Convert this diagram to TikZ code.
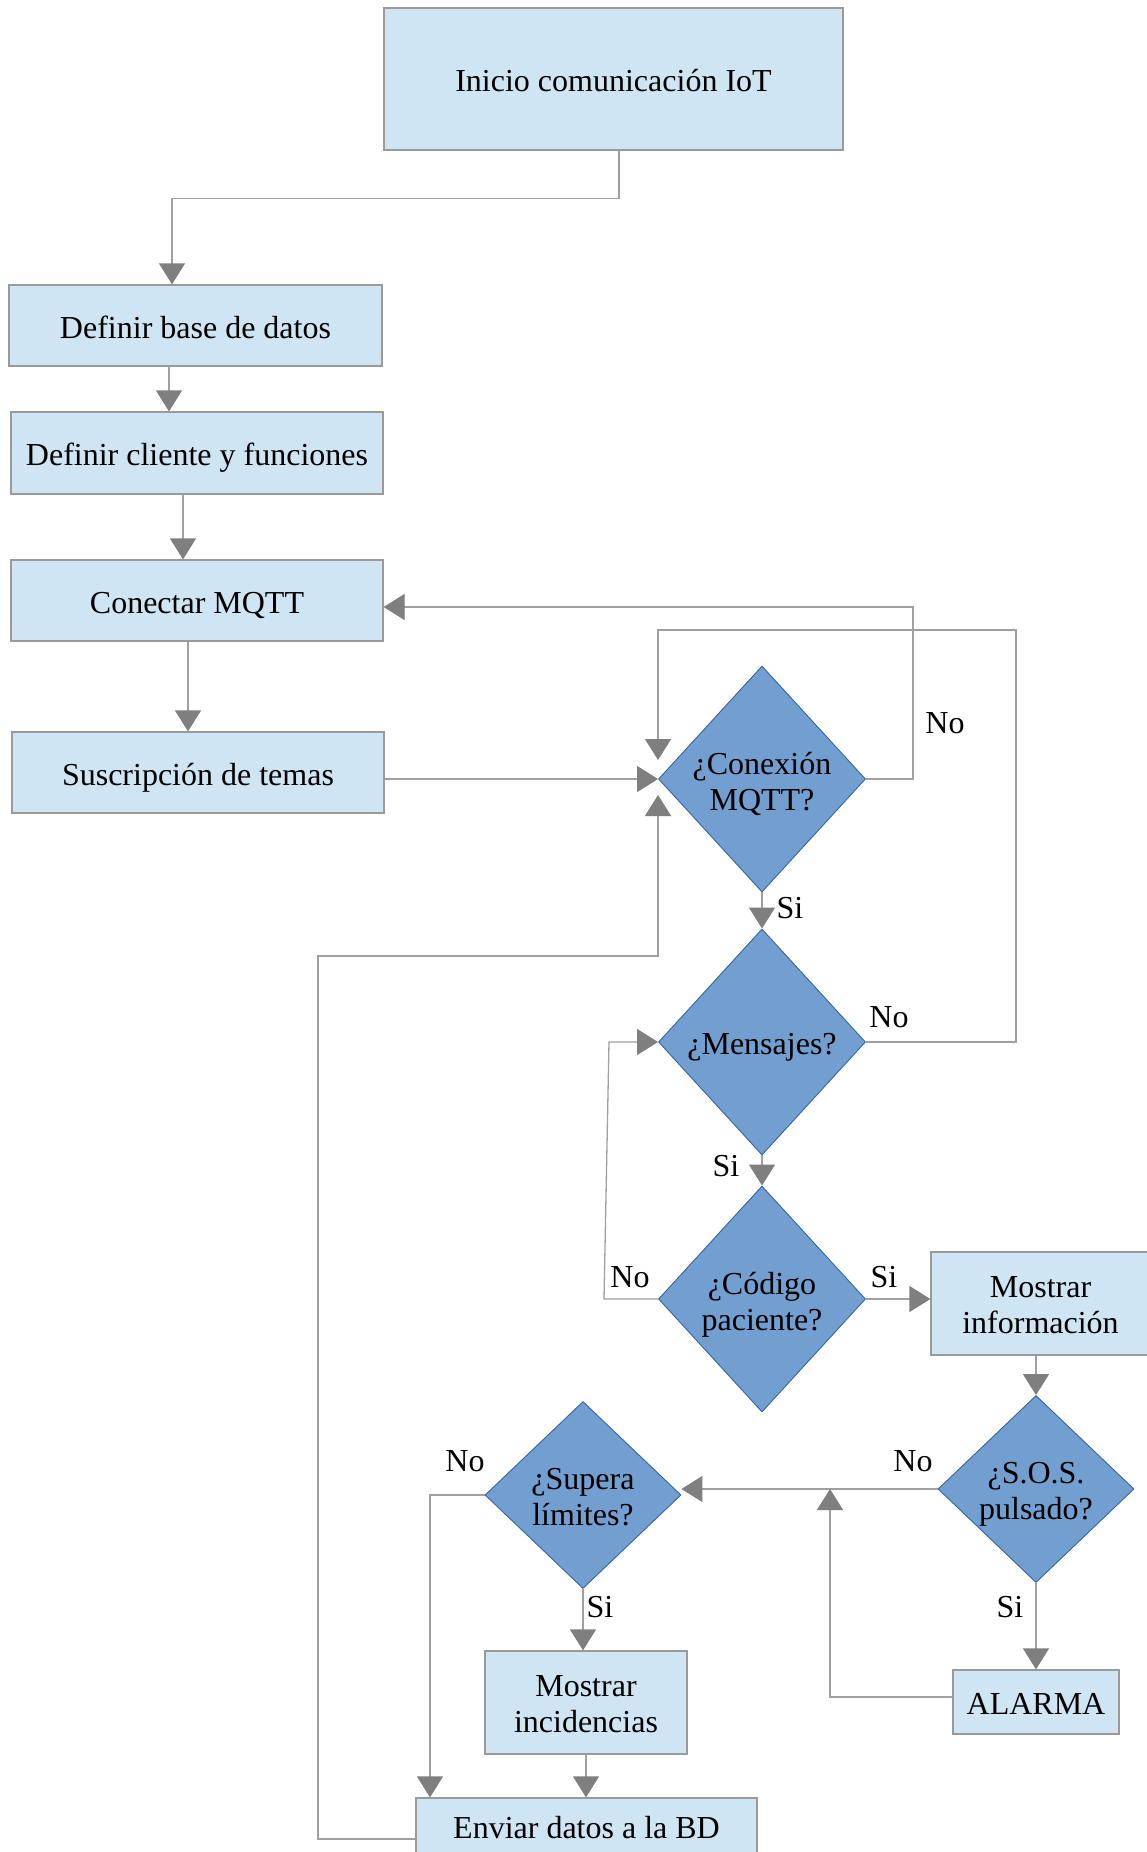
\documentclass[tikz,border=0pt]{standalone}
\usepackage{fontspec}
\setmainfont{Liberation Serif}
\usetikzlibrary{arrows.meta,shapes.geometric}
\definecolor{boxfill}{HTML}{CFE5F3}
\definecolor{boxline}{HTML}{9A9A9A}
\definecolor{diafill}{HTML}{729FCF}
\definecolor{dialine}{HTML}{3465A4}
\definecolor{conline}{HTML}{A0A0A0}
\definecolor{tipcol}{HTML}{7F7F7F}
\tikzset{
  every node/.style={font=\fontsize{32}{36}\selectfont, text=black},
  box/.style={rectangle, draw=boxline, fill=boxfill, line width=1.3pt, inner sep=0pt},
  dia/.style={diamond, draw=dialine, fill=diafill, line width=0.9pt, inner sep=0pt},
  inner/.style={align=center, inner sep=0pt},
  arr/.style={draw=conline, line width=1.3pt,
    -{Triangle[length=21pt,width=26pt,color=tipcol,fill=tipcol]}},
  lab/.style={inner sep=0pt}
}
\begin{document}
\begin{tikzpicture}[x=1pt,y=-1pt]
\useasboundingbox (0,0) rectangle (1147,1852);
\fill[white] (0,0) rectangle (1147,1852);

% boxes
\node[box, minimum width=459pt, minimum height=142pt,
  label={[inner,yshift=-1.5pt]center:{Inicio comunicación IoT}}] (ini) at (613.5,79) {};
\node[box, minimum width=373pt, minimum height=81pt,
  label={[inner,yshift=-1.5pt]center:{Definir base de datos}}] (db) at (195.5,325.5) {};
\node[box, minimum width=372pt, minimum height=82pt,
  label={[inner,yshift=-4.5pt]center:{Definir cliente y funciones}}] (dc) at (197,453) {};
\node[box, minimum width=372pt, minimum height=81pt,
  label={[inner,yshift=-5pt]center:{Conectar MQTT}}] (cm) at (197,600.5) {};
\node[box, minimum width=372pt, minimum height=81pt,
  label={[inner,yshift=-5pt]center:{Suscripción de temas}}] (su) at (198,772.5) {};
\node[box, minimum width=219pt, minimum height=103pt,
  label={[inner,yshift=-2pt]center:{Mostrar\\información}}] (mi) at (1040.5,1303.5) {};
\node[box, minimum width=166pt, minimum height=64pt,
  label={[inner,yshift=-1.5pt]center:{ALARMA}}] (al) at (1036,1702) {};
\node[box, minimum width=202pt, minimum height=103pt,
  label={[inner,yshift=-1.5pt]center:{Mostrar\\incidencias}}] (inc) at (586,1702.5) {};
\node[box, minimum width=341pt, minimum height=82pt,
  label={[inner,yshift=11pt]center:{Enviar datos a la BD}}] (en) at (586.5,1839) {};

% diamonds
\node[dia, minimum width=207pt, minimum height=226pt,
  label={[inner,yshift=-5pt]center:{¿Conexión\\MQTT?}}] (c1) at (762,779) {};
\node[dia, minimum width=207pt, minimum height=226pt,
  label={[inner,yshift=-5pt]center:{¿Mensajes?}}] (c2) at (762,1042) {};
\node[dia, minimum width=207pt, minimum height=226pt,
  label={[inner,yshift=-6pt]center:{¿Código\\paciente?}}] (c3) at (762,1299) {};
\node[dia, minimum width=196pt, minimum height=187pt,
  label={[inner,yshift=-5pt]center:{¿S.O.S.\\pulsado?}}] (c4) at (1036,1489) {};
\node[dia, minimum width=196pt, minimum height=187pt,
  label={[inner,yshift=-2.5pt]center:{¿Supera\\límites?}}] (c5) at (583,1495) {};

% connectors
\draw[arr] ([xshift=5.5pt]ini.south) -- ++(0,48) -| ([xshift=-23.5pt]db.north);
\draw[arr] (169,0 |- db.south) -- (169,0 |- dc.north);
\draw[arr] (183,0 |- dc.south) -- (183,0 |- cm.north);
\draw[arr] (188,0 |- cm.south) -- (188,0 |- su.north);
\draw[arr] (su.east |- c1.west) -- (c1.west);
\draw[arr] (c1.east) -| (913,607) -- (cm.east |- 0,607);
\draw[arr] (c2.east) -| (1016,630) -| (c1.west |- 0,760);
\draw[arr] (en.west) -| (318,956) -| (c1.west |- 0,795);
\draw[arr] (c1.south) -- (c2.north);
\draw[arr] (c2.south) -- (c3.north);
\draw[arr] (c3.west) -- (604,0 |- c3.west) -- (609,0 |- c2.west) -- (c2.west);
\draw[arr] (c3.east) -- (mi.west |- c3.east);
\draw[arr] (c4.north |- mi.south) -- (c4.north);
\draw[arr] (c4.west) -- (c5.east |- c4.west);
\draw[arr] (al.west |- 0,1697) -| (830,0 |- c4.west);
\draw[arr] (c4.south) -- (c4.south |- al.north);
\draw[arr] (c5.west) -| (430,0 |- en.north);
\draw[arr] (c5.south) -- (c5.south |- inc.north);
\draw[arr] (inc.south) -- (inc.south |- en.north);

% labels
\node[lab] (l1) at (945,723) {No};
\node[lab] (l2) at (889,1017) {No};
\node[lab] (l3) at (790,908) {Si};
\node[lab] (l4) at (726,1166) {Si};
\node[lab] (l5) at (630,1277) {No};
\node[lab] (l6) at (884,1277) {Si};
\node[lab] (l7) at (913,1461) {No};
\node[lab] (l8) at (1010,1607) {Si};
\node[lab] (l9) at (465,1461) {No};
\node[lab] (l10) at (600,1607) {Si};
\end{tikzpicture}
\end{document}
